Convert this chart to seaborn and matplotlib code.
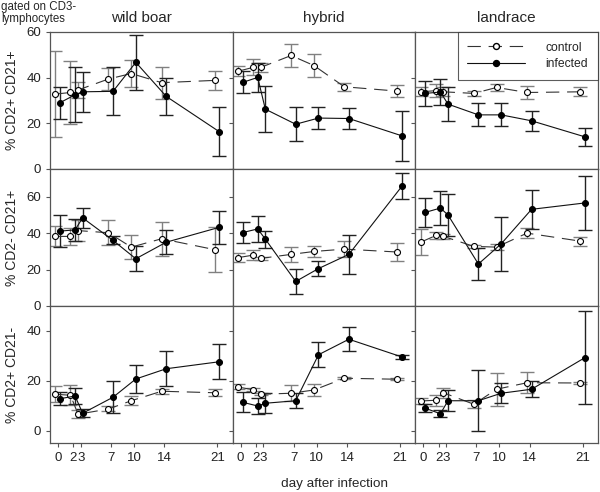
import matplotlib
matplotlib.use("Agg")
import matplotlib.pyplot as plt
import seaborn as sns
import pandas as pd
import numpy as np
from matplotlib.lines import Line2D

days = [0, 2, 3, 7, 10, 14, 21]
groups = ["wild boar", "hybrid", "landrace"]
rows = ["% CD2+ CD21+", "% CD2- CD21+", "% CD2+ CD21-"]

# row 1: CD2+ CD21+
wb_r1_ctrl = [32.8, 33.5, 34.6, 39.4, 41.8, 37.8, 38.8]
wb_r1_ctrl_err = [19, 14, 3.5, 5, 6, 7, 4]
wb_r1_inf = [29.0, 32.5, 33.8, 34.0, 46.7, 31.8, 16.3]
wb_r1_inf_err = [7, 12, 8.7, 10.5, 12, 8, 10.7]
hy_r1_ctrl = [42.8, 44.5, 44.5, 49.7, 45.3, 36.0, 34.1]
hy_r1_ctrl_err = [2.2, 3.5, 2, 5, 5, 1.8, 2.5]
hy_r1_inf = [37.9, 40.1, 26.2, 19.6, 22.3, 22.1, 14.5]
hy_r1_inf_err = [4.8, 6.3, 10, 7.5, 4.8, 4.8, 11]
lr_r1_ctrl = [33.8, 34.3, 33.8, 33.1, 35.7, 33.5, 33.8]
lr_r1_ctrl_err = [2, 2.7, 2, 1.2, 1.5, 3, 2]
lr_r1_inf = [33.1, 33.7, 28.4, 23.7, 23.7, 21.1, 14.1]
lr_r1_inf_err = [5.3, 5.5, 7.6, 5, 5, 4.3, 4]

# row 2: CD2- CD21+
wb_r2_ctrl = [38.3, 38.3, 41.5, 40.3, 32.4, 37.0, 31.0]
wb_r2_ctrl_err = [5.5, 4.5, 6, 7, 6.4, 9.3, 12.5]
wb_r2_inf = [41.2, 41.9, 48.5, 36.1, 26.0, 35.1, 43.3]
wb_r2_inf_err = [9, 6, 5.6, 2.2, 7, 6.5, 9]
hy_r2_ctrl = [26.6, 28.0, 26.2, 28.4, 30.0, 31.3, 29.7]
hy_r2_ctrl_err = [2.4, 2.7, 1, 4, 3, 4.3, 5.2]
hy_r2_inf = [40.4, 42.4, 36.8, 13.5, 20.6, 28.4, 66.0]
hy_r2_inf_err = [5.8, 7.3, 4.7, 7, 4.2, 10.8, 7]
lr_r2_ctrl = [35.1, 38.8, 38.3, 32.8, 32.4, 40.1, 35.7]
lr_r2_ctrl_err = [7, 2, 1.5, 1, 1.5, 2.8, 2.5]
lr_r2_inf = [51.5, 53.9, 50.1, 23.1, 34.2, 53.2, 56.7]
lr_r2_inf_err = [8.2, 9.2, 11.8, 8.7, 14.8, 10.7, 15]

# row 3: CD2+ CD21-
wb_r3_ctrl = [14.7, 14.3, 6.7, 8.8, 12.1, 15.9, 15.3]
wb_r3_ctrl_err = [3.3, 4, 1.5, 1, 1.8, 1, 1.3]
wb_r3_inf = [12.9, 14.0, 7.1, 13.5, 20.8, 24.9, 27.7]
wb_r3_inf_err = [2.7, 3.3, 1.5, 6.5, 5.5, 7.1, 6.9]
hy_r3_ctrl = [17.6, 16.5, 14.7, 15.1, 16.4, 21.1, 20.7]
hy_r3_ctrl_err = [1, 0.5, 0.5, 3.3, 2.3, 0.5, 0.5]
hy_r3_inf = [11.5, 10.0, 11.1, 12.1, 30.5, 36.7, 29.6]
hy_r3_inf_err = [4, 3.3, 4, 3, 4.9, 4.9, 0.8]
lr_r3_ctrl = [12.0, 12.3, 15.3, 10.7, 16.7, 19.3, 19.2]
lr_r3_ctrl_err = [1.3, 2.2, 2, 1.7, 6.6, 4.2, 0.5]
lr_r3_inf = [9.1, 6.9, 12.1, 12.1, 15.1, 16.7, 29.3]
lr_r3_inf_err = [1.6, 1.3, 4.3, 12.2, 4, 3.1, 18.6]

panels = [
    [(wb_r1_ctrl, wb_r1_ctrl_err, wb_r1_inf, wb_r1_inf_err),
     (hy_r1_ctrl, hy_r1_ctrl_err, hy_r1_inf, hy_r1_inf_err),
     (lr_r1_ctrl, lr_r1_ctrl_err, lr_r1_inf, lr_r1_inf_err)],
    [(wb_r2_ctrl, wb_r2_ctrl_err, wb_r2_inf, wb_r2_inf_err),
     (hy_r2_ctrl, hy_r2_ctrl_err, hy_r2_inf, hy_r2_inf_err),
     (lr_r2_ctrl, lr_r2_ctrl_err, lr_r2_inf, lr_r2_inf_err)],
    [(wb_r3_ctrl, wb_r3_ctrl_err, wb_r3_inf, wb_r3_inf_err),
     (hy_r3_ctrl, hy_r3_ctrl_err, hy_r3_inf, hy_r3_inf_err),
     (lr_r3_ctrl, lr_r3_ctrl_err, lr_r3_inf, lr_r3_inf_err)],
]

row_ylims = [(0, 60), (0, 75.4), (-4.8, 50)]
row_yticks = [[0, 20, 40, 60], [0, 20, 40, 60], [0, 20, 40]]

sns.set_style("ticks")
plt.rcParams['font.family'] = ['Liberation Sans', 'DejaVu Sans']
plt.rcParams['axes.edgecolor'] = '#555555'
plt.rcParams['xtick.color'] = '#555555'
plt.rcParams['ytick.color'] = '#555555'
plt.rcParams['xtick.labelcolor'] = '#222222'
plt.rcParams['ytick.labelcolor'] = '#222222'

fig, axes = plt.subplots(3, 3, figsize=(6.0, 4.92), dpi=100, sharex=True)
fig.subplots_adjust(left=0.0833, right=0.9967, top=0.935, bottom=0.0996,
                    wspace=0, hspace=0)

ctrl_off, inf_off = -0.35, 0.25
dash = (0, (12, 7))
msize = 4.3

for r in range(3):
    for c in range(3):
        ax = axes[r][c]
        ctrl, ctrl_err, inf, inf_err = panels[r][c]
        xc = np.array(days) + ctrl_off
        xi = np.array(days) + inf_off
        df_c = pd.DataFrame({"day": xc, "value": ctrl})
        df_i = pd.DataFrame({"day": xi, "value": inf})
        ax.errorbar(xc, ctrl, yerr=ctrl_err, fmt='none', ecolor='#808080',
                    elinewidth=1.0, capsize=5, capthick=1.0, zorder=1)
        ax.errorbar(xi, inf, yerr=inf_err, fmt='none', ecolor='#222222',
                    elinewidth=1.0, capsize=5, capthick=1.0, zorder=1)
        sns.lineplot(data=df_c, x="day", y="value", ax=ax, color='#333333',
                     linewidth=0.8, linestyle=dash, marker='o', markersize=msize,
                     markerfacecolor='white', markeredgecolor='black',
                     markeredgewidth=0.8, zorder=3)
        sns.lineplot(data=df_i, x="day", y="value", ax=ax, color='#111111',
                     linewidth=0.8, marker='o', markersize=msize,
                     markerfacecolor='black', markeredgecolor='black',
                     zorder=4)
        ax.set_xlim(-1.05, 23)
        ax.set_ylim(*row_ylims[r])
        ax.set_yticks(row_yticks[r])
        ax.set_xticks(days)
        ax.set_xlabel("")
        ax.set_ylabel("")
        ax.tick_params(direction='out', length=3, width=0.8, labelsize=9.5)
        for s in ax.spines.values():
            s.set_linewidth(0.9)
        if c == 0:
            ax.set_ylabel(rows[r], fontsize=10, labelpad=5)
        else:
            ax.tick_params(labelleft=False)
        if r == 0:
            ax.set_title(groups[c], fontsize=11, pad=7)
        if r == 2:
            ax.set_xticklabels([str(d) for d in days])

handles = [
    Line2D([0], [0], color='#333333', linewidth=0.8, linestyle=dash, marker='o',
           markersize=msize, markerfacecolor='white', markeredgecolor='black'),
    Line2D([0], [0], color='#111111', linewidth=0.8, marker='o', markersize=msize,
           markerfacecolor='black', markeredgecolor='black'),
]
leg = axes[0][2].legend(handles, ["control", "infected"], loc='upper right',
                        fontsize=8.7, handlelength=4.8, frameon=True,
                        fancybox=False, borderaxespad=0, borderpad=0.8,
                        handletextpad=1.7, labelspacing=0.35)
leg.get_frame().set_edgecolor('#333333')
leg.get_frame().set_linewidth(0.8)

fig.text(0.002, 0.998, "gated on CD3-\nlymphocytes", ha='left', va='top',
         fontsize=8.3, linespacing=1.0)
fig.text(0.558, 0.016, "day after infection", ha='center', va='center',
         fontsize=9.7)

fig.savefig("out.png", dpi=100)
